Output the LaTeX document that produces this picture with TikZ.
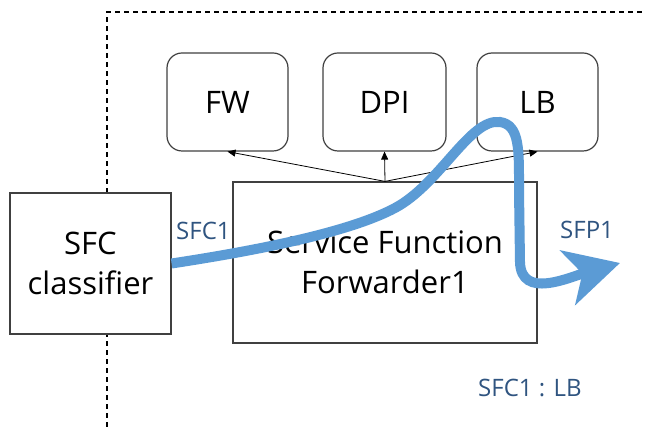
\documentclass[tikz,border=0pt]{standalone}
\usepackage{fontspec}
\setmainfont{Open Sans}
\usepackage{xcolor}
\usepackage{tikz}
\usetikzlibrary{shapes, arrows.meta, positioning, calc}

\definecolor{flowblue}{RGB}{91,155,213}
\definecolor{labelblue}{RGB}{47,84,128}
\definecolor{boxgray}{RGB}{64,64,64}

\begin{document}
\begin{tikzpicture}[x=1pt, y=-1pt,
  sfbox/.style={draw=boxgray, line width=1.2pt, rounded corners=15pt, fill=white,
    font=\fontsize{31}{40}\selectfont},
  plainbox/.style={draw=boxgray, line width=1.2pt, rectangle, fill=white, align=center,
    font=\fontsize{31}{40}\selectfont},
  pathlabel/.style={text=labelblue, inner sep=0pt, anchor=base west,
    font=\fontsize{24}{28}\selectfont}]
\useasboundingbox (0,0) rectangle (646,427);

% domain border
\draw[dashed, dash pattern=on 5pt off 4pt, line width=1.2pt] (107,427) -- (107,12) -- (646,12);

% service functions
\node[sfbox, minimum width=121pt, minimum height=98pt] (fw) at (227.5,102) {FW};
\node[sfbox, minimum width=123pt, minimum height=98pt] (dpi) at (384.5,102) {DPI};
\node[sfbox, minimum width=121pt, minimum height=98pt] (lb) at (537.5,102) {LB};

% forwarder and classifier
\node[plainbox, minimum width=304pt, minimum height=161pt] (sff) at (385,262.5)
   {Service Function\\Forwarder1};
\node[plainbox, minimum width=161pt, minimum height=141pt] (clf) at (90.5,263.5)
   {SFC\\classifier};

\coordinate (hub) at (sff.north);
\draw[-{Triangle[length=8pt, width=7pt]}, line width=0.8pt] (hub) -- (fw.south);
\draw[-{Triangle[length=8pt, width=7pt]}, line width=0.8pt] (hub) -- (dpi.south);
\draw[-{Triangle[length=8pt, width=7pt]}, line width=0.8pt] (hub) -- (lb.south);

% service function path
\coordinate (sfpend) at (620,263);
\draw[flowblue, line width=10pt, -{Stealth[length=54pt, width=56pt, inset=15pt]}]
  (clf.east) .. controls (260,250) and (350,232) .. (395,208)
  .. controls (440,184) and (470,118) .. (500,122)
  .. controls (520,125) and (519,150) .. (519,190)
  -- (520,262)
  .. controls (521,300) and (570,277) .. (sfpend);

\node[pathlabel] (sfc) at (176,240) {SFC1};
\node[pathlabel] (sfp) at (560,239) {SFP1};
\node[pathlabel] (tbl) at (478,397) {SFC1 : LB};
\end{tikzpicture}
\end{document}
